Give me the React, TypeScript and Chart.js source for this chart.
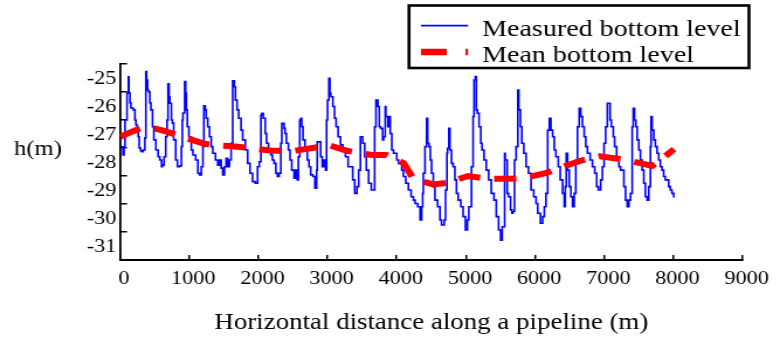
import React, { useEffect, useRef } from 'react';
import { Chart, registerables } from 'chart.js';

Chart.register(...registerables);

// ---------- data ----------
const distance = [
  0, 43, 58, 72, 79, 101, 122, 129, 144, 158,
  191, 216, 230, 249, 263, 277, 298, 312, 335, 359,
  374, 384, 398, 413, 431, 446, 470, 489, 518, 551,
  575, 600, 614, 637, 661, 680, 694, 709, 719, 743,
  758, 776, 805, 830, 863, 887, 901, 910, 935, 949,
  959, 973, 996, 1031, 1054, 1093, 1126, 1150, 1175, 1198,
  1212, 1232, 1246, 1269, 1294, 1318, 1341, 1380, 1413, 1438,
  1462, 1485, 1510, 1534, 1557, 1581, 1606, 1629, 1653, 1668,
  1692, 1715, 1749, 1773, 1812, 1845, 1879, 1916, 1955, 1988,
  2013, 2037, 2052, 2070, 2099, 2118, 2146, 2181, 2204, 2228,
  2253, 2276, 2300, 2325, 2339, 2372, 2386, 2405, 2434, 2458,
  2483, 2516, 2540, 2563, 2578, 2598, 2613, 2627, 2645, 2674,
  2707, 2732, 2756, 2789, 2818, 2842, 2851, 2866, 2900, 2923,
  2947, 2972, 2986, 3000, 3019, 3034, 3048, 3077, 3101, 3124,
  3153, 3187, 3220, 3259, 3297, 3331, 3364, 3393, 3426, 3450,
  3475, 3508, 3537, 3561, 3594, 3633, 3666, 3681, 3700, 3728,
  3748, 3768, 3796, 3810, 3834, 3843, 3872, 3892, 3906, 3929,
  3954, 4001, 4026, 4073, 4097, 4131, 4169, 4208, 4241, 4266,
  4303, 4338, 4361, 4375, 4385, 4409, 4432, 4447, 4467, 4486,
  4504, 4529, 4553, 4591, 4625, 4648, 4687, 4706, 4726, 4735,
  4754, 4769, 4792, 4816, 4841, 4864, 4888, 4927, 4960, 4993,
  5022, 5042, 5080, 5104, 5118, 5137, 5151, 5166, 5190, 5215,
  5233, 5262, 5295, 5330, 5367, 5406, 5439, 5473, 5502, 5525,
  5560, 5568, 5597, 5617, 5646, 5665, 5679, 5703, 5726, 5751,
  5765, 5789, 5808, 5837, 5870, 5905, 5942, 5981, 6014, 6038,
  6077, 6110, 6134, 6157, 6182, 6206, 6229, 6254, 6278, 6301,
  6336, 6364, 6398, 6422, 6436, 6451, 6470, 6494, 6517, 6542,
  6566, 6589, 6613, 6638, 6661, 6685, 6710, 6733, 6757, 6796,
  6829, 6862, 6891, 6915, 6948, 6973, 6997, 7020, 7045, 7084,
  7102, 7131, 7150, 7179, 7213, 7236, 7284, 7308, 7332, 7357,
  7380, 7404, 7419, 7437, 7457, 7476, 7500, 7523, 7548, 7572,
  7595, 7620, 7644, 7667, 7677, 7692, 7716, 7739, 7764, 7788,
  7811, 7835, 7859, 7883, 7931, 7955, 7979, 8004, 8018,
];

const measuredLevel = [
  -27.47, -27.46, -27.75, -27.46, -26.5, -26.5, -25.54, -24.96, -25.54, -25.89,
  -26.07, -26.14, -26.5, -26.68, -26.79, -27.1, -27.5, -27.6, -27.63, -27.57,
  -27.14, -24.77, -25.07, -25.43, -25.49, -25.89, -26.14, -26.74, -27.21, -27.57,
  -27.81, -27.93, -28.17, -28.11, -27.81, -27.1, -26.5, -25.21, -25.67, -25.9,
  -26.5, -26.61, -27.21, -27.93, -28.17, -28.14, -27.45, -26.5, -26.25, -25.13,
  -25.55, -26.14, -26.74, -27.1, -27.57, -27.75, -27.93, -28.4, -28.46, -28.17,
  -27.45, -25.99, -26.14, -26.44, -26.74, -27.1, -27.45, -27.69, -27.93, -28.11,
  -27.93, -28.22, -28.46, -28.17, -27.87, -28.17, -27.93, -27.33, -25.1, -25.31,
  -25.79, -26.14, -26.44, -26.86, -27.21, -27.57, -28.05, -28.4, -28.7, -28.76,
  -28.17, -27.99, -26.32, -26.26, -26.44, -26.98, -27.33, -27.57, -27.75, -27.93,
  -28.05, -28.4, -28.52, -28.4, -27.33, -26.62, -26.8, -26.98, -27.33, -27.57,
  -27.93, -28.29, -28.58, -28.29, -28.64, -27.81, -26.5, -26.44, -26.74, -27.21,
  -27.57, -27.93, -28.17, -28.46, -28.52, -28.94, -28.29, -27.28, -27.28, -27.81,
  -28.17, -27.93, -28.29, -26.5, -25.79, -25.01, -25.55, -25.67, -26.02, -26.44,
  -26.74, -27.1, -27.39, -27.57, -27.81, -28.17, -28.17, -28.64, -29.12, -28.88,
  -28.29, -27.1, -27.33, -27.81, -28.29, -28.76, -29.0, -29.0, -26.74, -25.79,
  -26.02, -26.74, -26.8, -27.21, -27.1, -26.02, -26.38, -26.74, -26.38, -26.98,
  -27.57, -27.69, -27.93, -28.05, -28.29, -28.52, -28.76, -29.0, -29.24, -29.36,
  -29.48, -29.6, -30.07, -29.6, -29.12, -28.4, -27.45, -26.44, -27.33, -27.45,
  -27.93, -28.4, -28.88, -29.36, -29.6, -30.07, -30.25, -30.07, -29.0, -27.69,
  -27.51, -26.8, -27.57, -28.05, -28.17, -28.64, -29.12, -29.36, -29.6, -29.95,
  -30.43, -30.07, -29.6, -28.17, -26.38, -25.07, -24.95, -26.14, -26.26, -26.74,
  -27.33, -27.57, -27.93, -28.29, -28.64, -29.12, -29.36, -29.95, -30.43, -30.79,
  -30.31, -27.69, -27.93, -29.12, -29.24, -29.71, -29.83, -29.77, -27.93, -27.45,
  -25.43, -26.14, -26.74, -27.33, -27.69, -28.17, -28.4, -29.0, -29.24, -29.48,
  -29.83, -30.19, -29.95, -29.6, -29.12, -26.86, -26.44, -26.86, -27.1, -27.57,
  -27.81, -28.17, -28.64, -29.12, -29.6, -28.88, -27.69, -28.29, -28.88, -29.24,
  -29.6, -29.12, -27.93, -26.74, -26.08, -26.38, -26.74, -27.1, -27.45, -27.69,
  -27.93, -28.17, -28.4, -28.88, -29.0, -28.64, -28.17, -27.33, -26.74, -25.9,
  -26.5, -26.74, -27.1, -27.45, -27.81, -28.17, -28.29, -28.88, -29.36, -29.6,
  -29.36, -29.12, -26.74, -26.08, -26.5, -26.74, -27.21, -27.57, -27.93, -28.29,
  -28.76, -29.24, -29.36, -28.88, -27.45, -26.38, -26.86, -27.21, -27.45, -27.69,
  -27.93, -28.17, -28.29, -28.52, -28.64, -28.88, -29.0, -29.12, -29.24,
];

const meanDistance = [
  0, 140, 290, 500, 650, 830, 1030, 1220, 1370, 1580, 1870, 2200, 2520, 2780,
  3020, 3280, 3640, 3850, 4100, 4240, 4530, 4740, 5030, 5320, 5610, 5850, 6150,
  6400, 6690, 6930, 7260, 7520, 7690, 7810, 8010,
];
const meanLevel = [
  -27.1, -26.95, -26.8, -26.8, -26.9, -27.04, -27.2, -27.35, -27.4, -27.43,
  -27.5, -27.6, -27.6, -27.5, -27.4, -27.6, -27.75, -27.75, -28.04, -28.6,
  -28.8, -28.74, -28.5, -28.6, -28.6, -28.57, -28.4, -28.17, -27.93, -27.8,
  -27.9, -28.04, -28.14, -27.93, -27.54,
];

const seriesNames = ['Measured bottom level', 'Mean bottom level'];
const yTickLabels = ['-31', '-30', '-29', '-28', '-27', '-26', '-25'];
const xMin = 0;
const xMax = 9000;
const xStep = 1000;
const xTitle = 'Horizontal distance along a pipeline (m)';
const yTitle = 'h(m)';

// ---------- geometry ----------
const DISPLAY_W = 780;
const RENDER_W = 667;
const H = 337;
const SX = DISPLAY_W / RENDER_W; // horizontal stretch of the reference
const FONT = '"Liberation Serif", "Times New Roman", serif';

const overlay = {
  id: 'overlay',
  afterDraw(chart: any) {
    const ctx = chart.ctx as CanvasRenderingContext2D;
    ctx.save();
    // y-axis title (horizontal)
    ctx.fillStyle = '#000';
    ctx.font = `21px ${FONT}`;
    ctx.textAlign = 'center';
    ctx.textBaseline = 'alphabetic';
    ctx.fillText(yTitle, 38 / SX, 155);

    // legend box
    const lx = 409 / SX;
    const rx = 749 / SX;
    const ty = 5.5;
    const by = 68;
    ctx.fillStyle = '#fff';
    ctx.fillRect(lx, ty, rx - lx, by - ty);
    ctx.strokeStyle = '#000';
    ctx.lineWidth = 2.6;
    ctx.strokeRect(lx, ty, rx - lx, by - ty);

    const ds = chart.data.datasets;
    const sx0 = 421 / SX;
    const sx1 = 468 / SX;
    // measured sample
    ctx.beginPath();
    ctx.strokeStyle = ds[1].borderColor;
    ctx.lineWidth = 1.8;
    ctx.moveTo(sx0, 25.7);
    ctx.lineTo(sx1, 25.7);
    ctx.stroke();
    // mean sample
    ctx.beginPath();
    ctx.strokeStyle = ds[0].borderColor;
    ctx.lineWidth = 6.5;
    ctx.lineCap = 'butt';
    ctx.setLineDash([22, 16]);
    ctx.moveTo(sx0, 52);
    ctx.lineTo(sx1, 52);
    ctx.stroke();
    ctx.setLineDash([]);

    ctx.fillStyle = '#000';
    ctx.font = `24px ${FONT}`;
    ctx.textAlign = 'left';
    ctx.fillText(ds[1].label, 482 / SX, 36);
    ctx.fillText(ds[0].label, 482 / SX, 61.7);
    ctx.restore();
  },
};

export default function App() {
  const ref = useRef<HTMLCanvasElement | null>(null);

  useEffect(() => {
    if (!ref.current) return;
    const measured = distance.map((d, i) => ({ x: d, y: measuredLevel[i] }));
    const mean = meanDistance.map((d, i) => ({ x: d, y: meanLevel[i] }));

    const chart = new Chart(ref.current, {
      type: 'line',
      data: {
        datasets: [
          {
            label: seriesNames[1],
            data: mean,
            borderColor: '#ff0000',
            borderWidth: 6,
            borderDash: [19, 12],
            borderCapStyle: 'butt',
            pointRadius: 0,
            tension: 0,
            fill: false,
            order: 0,
          },
          {
            label: seriesNames[0],
            data: measured,
            borderColor: '#0000ff',
            borderWidth: 1.6,
            stepped: 'after',
            pointRadius: 0,
            tension: 0,
            fill: false,
            order: 1,
          },
        ],
      },
      options: {
        responsive: false,
        devicePixelRatio: 1,
        animation: false,
        events: [],
        layout: { padding: { left: 0, right: RENDER_W - 746 / SX, top: 64, bottom: 0 } },
        plugins: {
          legend: { display: false },
          tooltip: { enabled: false },
          title: { display: false },
        },
        scales: {
          x: {
            type: 'linear',
            min: xMin,
            max: xMax,
            ticks: {
              stepSize: xStep,
              color: '#000',
              padding: 13,
              labelOffset: 3.5,
              maxRotation: 0,
              autoSkip: false,
              font: { family: FONT, size: 19 },
              callback: (v: any) => String(v),
            },
            grid: {
              drawOnChartArea: false,
              drawTicks: true,
              tickLength: -5,
              color: '#000',
              lineWidth: 1.5,
            },
            border: { display: true, color: '#000', width: 2 },
            title: {
              display: true,
              text: xTitle,
              color: '#000',
              font: { family: FONT, size: 23 },
              padding: { top: 0, bottom: 0 },
            },
            afterFit: (scale: any) => {
              scale.height = H - 260;
            },
          },
          y: {
            type: 'linear',
            min: -31.5,
            max: -24.5,
            afterBuildTicks: (scale: any) => {
              const t = [];
              for (let i = 0; i <= yTickLabels.length; i++) t.push({ value: -31.5 + i });
              scale.ticks = t;
            },
            ticks: {
              color: '#000',
              padding: 9,
              labelOffset: -12.5,
              autoSkip: false,
              font: { family: FONT, size: 19 },
              callback: (_v: any, i: number) => yTickLabels[i] ?? '',
            },
            grid: {
              drawOnChartArea: false,
              drawTicks: true,
              tickLength: -6,
              color: '#000',
              lineWidth: 1.5,
            },
            border: { display: true, color: '#000', width: 1.8 },
            afterFit: (scale: any) => {
              scale.width = 120 / SX;
            },
          },
        },
      },
      plugins: [overlay],
    } as any);

    return () => chart.destroy();
  }, []);

  return (
    <div style={{ position: 'absolute', left: 0, top: 0, width: DISPLAY_W, height: H, background: '#fff' }}>
      <canvas
        ref={ref}
        width={RENDER_W}
        height={H}
        style={{ width: DISPLAY_W + 'px', height: H + 'px', display: 'block' }}
      />
    </div>
  );
}
